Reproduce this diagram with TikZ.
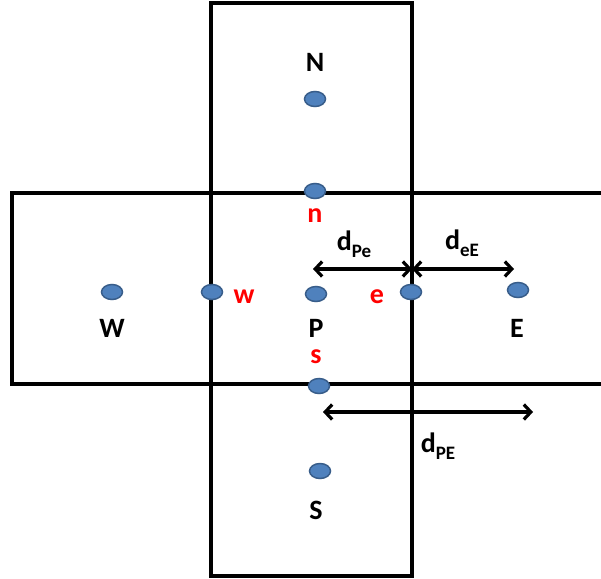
\documentclass[tikz,border=0pt]{standalone}
\usepackage{fontspec}
\setmainfont{Carlito}
\usetikzlibrary{arrows.meta,shapes.geometric}
\definecolor{dotfill}{HTML}{4F81BD}
\definecolor{dotedge}{HTML}{385D8A}
\definecolor{facered}{HTML}{FF0000}
\newcommand{\dsub}[1]{d\raisebox{-0.26em}{\fontsize{19}{19}\selectfont #1}}
\begin{document}
\begin{tikzpicture}[x=1pt,y=-1pt,
  cellline/.style={line width=3.2pt, draw=black},
  pt/.style={ellipse, minimum width=21pt, minimum height=15pt, inner sep=0pt, fill=dotfill, draw=dotedge, line width=1.5pt},
  lbl/.style={font=\fontsize{28}{28}\selectfont\bfseries, text=black, inner sep=0pt},
  flbl/.style={lbl, text=facered},
  dimarrow/.style={line width=3.2pt, {Straight Barb[length=7pt,width=15pt]}-{Straight Barb[length=7pt,width=15pt]}}
]
\useasboundingbox (0,0) rectangle (601,578);
% cells
\draw[cellline] (211,3) rectangle (412,576);
\draw[cellline] (603,193) -- (12,193) -- (12,384) -- (603,384);
% dots
\node[pt] (N) at (315,99) {};
\node[pt] (n) at (315,191) {};
\node[pt] (W) at (112,292) {};
\node[pt] (w) at (212,292) {};
\node[pt] (P) at (316,294) {};
\node[pt] (e) at (411,292) {};
\node[pt] (E) at (518,290) {};
\node[pt] (s) at (319,386) {};
\node[pt] (S) at (320,471) {};
% labels
\node[lbl] (lN) at (315,62) {N};
\node[lbl] (lW) at (112,328) {W};
\node[lbl] (lP) at (316,328) {P};
\node[lbl] (lE) at (517,328) {E};
\node[lbl] (lS) at (316,510) {S};
\node[flbl] (ln) at (315,216) {n};
\node[flbl] (lw) at (244,297) {w};
\node[flbl] (le) at (377,297) {e};
\node[flbl] (ls) at (316,357) {s};
% dimension arrows
\coordinate (a1) at (313,269);
\coordinate (a2) at (412,269);
\coordinate (a3) at (514,269);
\coordinate (b1) at (323,412);
\coordinate (b2) at (533,412);
\draw[dimarrow] (a1) -- (a2);
\draw[dimarrow] (a2) -- (a3);
\draw[dimarrow] (b1) -- (b2);
\node[lbl, anchor=base] (dPe) at (354,250) {\dsub{Pe}};
\node[lbl, anchor=base] (deE) at (462,249) {\dsub{eE}};
\node[lbl, anchor=base] (dPE) at (438,452) {\dsub{PE}};
\end{tikzpicture}
\end{document}
